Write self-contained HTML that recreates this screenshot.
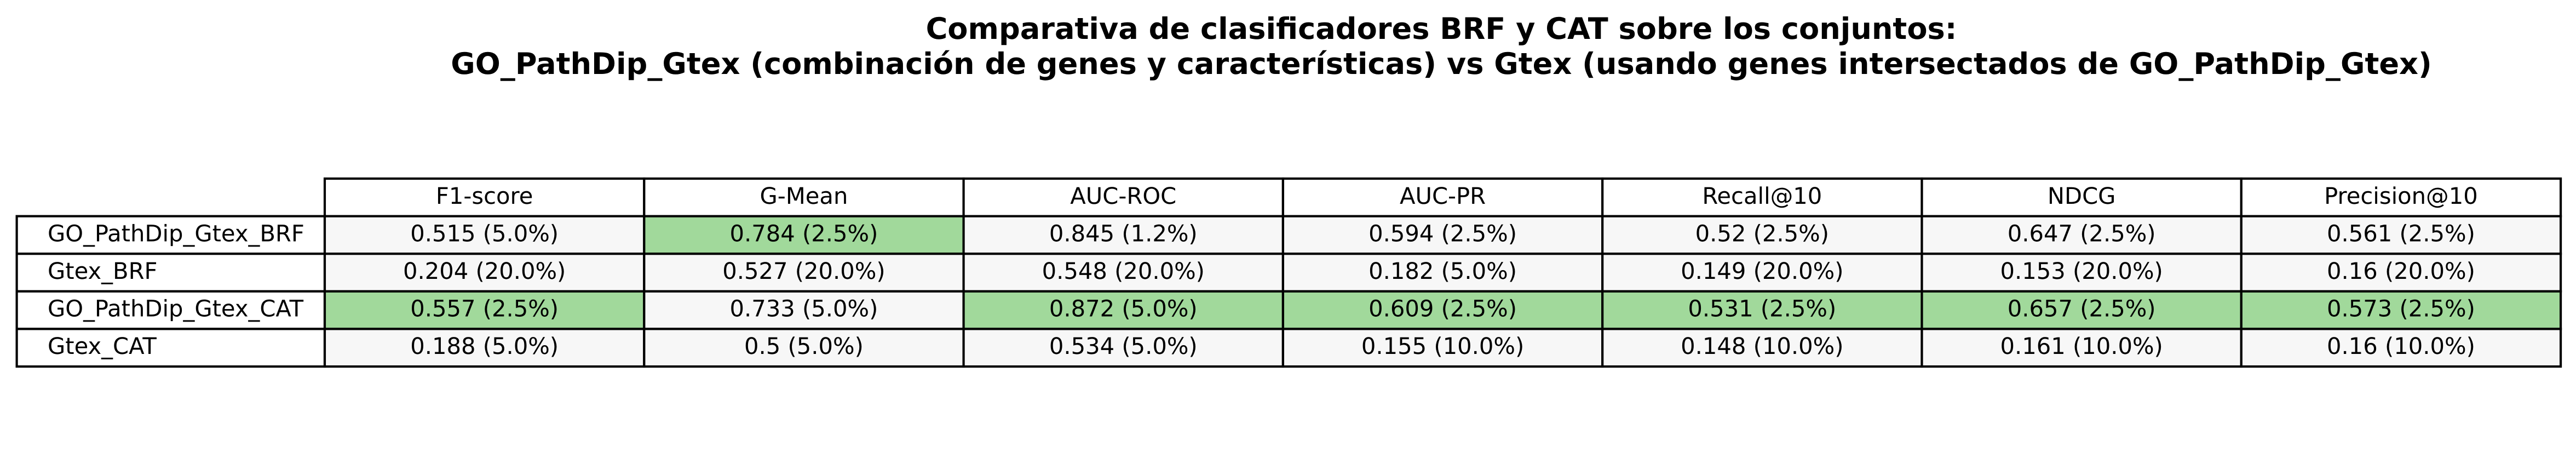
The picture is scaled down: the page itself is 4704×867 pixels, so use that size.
<!DOCTYPE html>
<html>
<head>
<meta charset="utf-8">
<title>Comparativa de clasificadores</title>
<style>
html,body{margin:0;padding:0;background:#fff;}
svg{display:block;}
text{font-family:"DejaVu Sans","Liberation Sans",sans-serif;fill:#000;text-rendering:geometricPrecision;}
</style>
</head>
<body>
<svg id="chart" xmlns="http://www.w3.org/2000/svg" width="4704" height="867" viewBox="0 0 4704 867">
<text x="2632" y="71" text-anchor="middle" font-size="54.17" font-weight="700">Comparativa de clasificadores BRF y CAT sobre los conjuntos:</text>
<text x="2632" y="135" text-anchor="middle" font-size="54.17" font-weight="700">GO_PathDip_Gtex (combinación de genes y características) vs Gtex (usando genes intersectados de GO_PathDip_Gtex)</text>
</svg>
<script>
const metrics = ["F1-score","G-Mean","AUC-ROC","AUC-PR","Recall@10","NDCG","Precision@10"];
const models = ["GO_PathDip_Gtex_BRF","Gtex_BRF","GO_PathDip_Gtex_CAT","Gtex_CAT"];
const brfGoValues = [0.515,0.784,0.845,0.594,0.52,0.647,0.561];
const brfGoPct = ["5.0","2.5","1.2","2.5","2.5","2.5","2.5"];
const brfGtexValues = [0.204,0.527,0.548,0.182,0.149,0.153,0.16];
const brfGtexPct = ["20.0","20.0","20.0","5.0","20.0","20.0","20.0"];
const catGoValues = [0.557,0.733,0.872,0.609,0.531,0.657,0.573];
const catGoPct = ["2.5","5.0","5.0","2.5","2.5","2.5","2.5"];
const catGtexValues = [0.188,0.5,0.534,0.155,0.148,0.161,0.16];
const catGtexPct = ["5.0","5.0","5.0","10.0","10.0","10.0","10.0"];

const rowValues = [brfGoValues, brfGtexValues, catGoValues, catGtexValues];
const rowPct = [brfGoPct, brfGtexPct, catGoPct, catGtexPct];

const svg = document.getElementById('chart');
const NS = 'http://www.w3.org/2000/svg';
const tableLeft = 30.6, firstColX = 593, colW = 583.3;
const tableTop = 326, rowH = 68.6;
const baselineOffset = 11.5;

function colX(c){ return firstColX + c * colW; }
function rowY(r){ return tableTop + r * rowH; }

function addCell(x, y, w, h, fill){
  const rect = document.createElementNS(NS, 'rect');
  rect.setAttribute('x', x);
  rect.setAttribute('y', y);
  rect.setAttribute('width', w);
  rect.setAttribute('height', h);
  rect.setAttribute('fill', fill);
  rect.setAttribute('stroke', '#000');
  rect.setAttribute('stroke-width', '4.17');
  svg.appendChild(rect);
  return rect;
}
function addText(x, y, str, anchor){
  const t = document.createElementNS(NS, 'text');
  t.setAttribute('x', x);
  t.setAttribute('y', y);
  t.setAttribute('font-size', '41.67');
  t.setAttribute('text-anchor', anchor);
  t.textContent = str;
  svg.appendChild(t);
  return t;
}

metrics.forEach(function(m, c){
  const rect = addCell(colX(c), rowY(0), colW, rowH, '#ffffff');
  
  
  const label = addText(colX(c) + colW / 2, rowY(0) + rowH / 2 + baselineOffset, m, 'middle');
  
  
});

models.forEach(function(name, r){
  const y = rowY(r + 1);
  const rect = addCell(tableLeft, y, firstColX - tableLeft, rowH, '#ffffff');
  
  
  const label = addText(87, y + rowH / 2 + baselineOffset, name, 'start');
  
  
  metrics.forEach(function(m, c){
    const v = rowValues[r][c];
    const best = Math.max.apply(null, rowValues.map(function(row){ return row[c]; }));
    const cell = addCell(colX(c), y, colW, rowH, v === best ? '#a1d99b' : '#f7f7f7');
    
    
    const txt = addText(colX(c) + colW / 2, y + rowH / 2 + baselineOffset, v + ' (' + rowPct[r][c] + '%)', 'middle');
    
    
  });
});
</script>
</body>
</html>
